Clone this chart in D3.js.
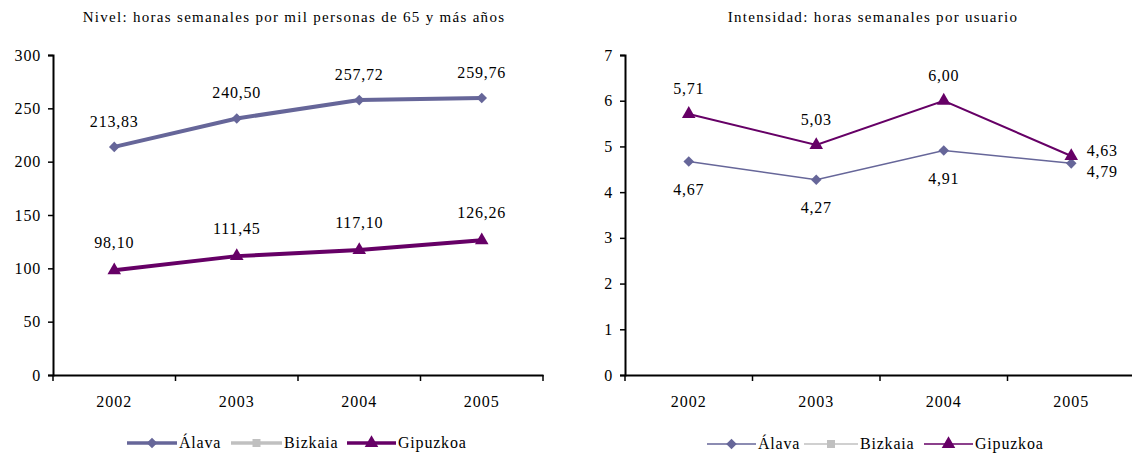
<!DOCTYPE html>
<html>
<head>
<meta charset="utf-8">
<script src="https://cdn.jsdelivr.net/npm/d3@7"></script>
<style>
  html, body { margin: 0; padding: 0; background: #fff; }
  svg { display: block; }
  svg text { font-family: "Liberation Serif", "Times New Roman", serif; }
</style>
</head>
<body>
<svg id="chart" width="1132" height="454"></svg>
<script>
const years = ["2002", "2003", "2004", "2005"];
const seriesNames = ["Álava", "Bizkaia", "Gipuzkoa"];
const seriesColors = ["#666699", "#C0C0C0", "#660066"];

// Left chart: Nivel
const nivelTitle = "Nivel: horas semanales por mil personas de  65 y más años";
const nivelAlava = [213.83, 240.50, 257.72, 259.76];
const nivelGipuzkoa = [98.10, 111.45, 117.10, 126.26];
const nivelAlavaLabels = ["213,83", "240,50", "257,72", "259,76"];
const nivelGipuzkoaLabels = ["98,10", "111,45", "117,10", "126,26"];
const nivelTicks = [0, 50, 100, 150, 200, 250, 300];

// Right chart: Intensidad
const intTitle = "Intensidad: horas semanales por usuario";
const intAlava = [4.67, 4.27, 4.91, 4.63];
const intGipuzkoa = [5.71, 5.03, 6.00, 4.79];
const intAlavaLabels = ["4,67", "4,27", "4,91", "4,79"];
const intGipuzkoaLabels = ["5,71", "5,03", "6,00", "4,63"];
const intTicks = [0, 1, 2, 3, 4, 5, 6, 7];

const FONT = "Liberation Serif, Times New Roman, serif";
const svg = d3.select("#chart");

function marker(sel, k, size) {
  sel.attr("d", d3.symbol().type(k === 2 ? d3.symbolTriangle : d3.symbolSquare).size(size));
}

function drawChart(cfg) {
  const g = svg.append("g").attr("font-family", FONT);
  const x = d3.scaleBand().domain(years).range([cfg.x0, cfg.x1]);
  const y = d3.scaleLinear().domain([0, cfg.ymax]).range([375, 55]);

  g.append("text")
    .attr("x", cfg.titleX).attr("y", 22)
    .attr("text-anchor", "middle")
    .attr("font-size", 15).attr("letter-spacing", 1.3)
    .attr("font-family", FONT)
    .attr("fill", "#000")
    .text(cfg.title);

  const yAxis = g.append("g").attr("transform", `translate(${cfg.x0},0)`)
    .call(d3.axisLeft(y).tickValues(cfg.ticks).tickSize(5).tickPadding(7).tickFormat(d3.format("d")));
  yAxis.attr("font-family", FONT);
  yAxis.select(".domain").attr("stroke", "#000").attr("stroke-width", 2);
  yAxis.selectAll(".tick line").attr("stroke", "#000").attr("stroke-width", 1.5);
  yAxis.selectAll("text").attr("font-size", 16).attr("letter-spacing", 0.8).attr("font-family", FONT).attr("fill", "#000");

  const xAxis = g.append("g").attr("transform", `translate(0,375)`)
    .call(d3.axisBottom(x).tickSize(0).tickPadding(21));
  xAxis.attr("font-family", FONT);
  xAxis.select(".domain").attr("stroke", "#000").attr("stroke-width", 2);
  xAxis.selectAll("text").attr("font-size", 16).attr("letter-spacing", 1).attr("font-family", FONT).attr("fill", "#000");
  const bounds = years.map(d => x(d)).concat([cfg.x1]);
  g.selectAll(".btick").data(bounds).enter().append("line")
    .attr("x1", d => d).attr("x2", d => d)
    .attr("y1", 375).attr("y2", 381)
    .attr("stroke", "#000").attr("stroke-width", 1.5);

  const cx = d => x(d) + x.bandwidth() / 2;
  const line = d3.line().x((d, i) => cx(years[i])).y(d => y(d));

  const series = [
    { k: 0, vals: cfg.alava, labels: cfg.alavaLabels, color: seriesColors[0], size: cfg.diaSize, rot: 45, lw: cfg.alavaLw, dy: cfg.alavaDy, dyLast: cfg.alavaDyLast },
    { k: 2, vals: cfg.gip, labels: cfg.gipLabels, color: seriesColors[2], size: cfg.triSize, rot: 0, lw: cfg.gipLw, dy: cfg.gipDy, dyLast: cfg.gipDyLast }
  ];
  series.forEach(s => {
    g.append("path").datum(s.vals)
      .attr("d", line).attr("fill", "none")
      .attr("stroke", s.color).attr("stroke-width", s.lw);
    g.selectAll(null).data(s.vals).enter().append("path")
      .call(marker, s.k, s.size)
      .attr("transform", (d, i) => `translate(${cx(years[i])},${y(d)}) rotate(${s.rot})`)
      .attr("fill", s.color);
    g.selectAll(null).data(s.vals).enter().append("text")
      .attr("x", (d, i) => cx(years[i]) + (cfg.lastDx && i === 3 ? cfg.lastDx : 0))
      .attr("y", (d, i) => y(d) + ((s.dyLast !== undefined && i === 3) ? s.dyLast : s.dy))
      .attr("text-anchor", "middle")
      .attr("font-size", 16).attr("letter-spacing", 0.8).attr("font-family", FONT).attr("fill", "#000")
      .text((d, i) => s.labels[i]);
  });

  const lg = g.append("g");
  cfg.legend.forEach((item, k) => {
    lg.append("line").attr("x1", item.lx0).attr("x2", item.lx1)
      .attr("y1", cfg.legY).attr("y2", cfg.legY)
      .attr("stroke", seriesColors[k]).attr("stroke-width", cfg.legLw);
    const sz = [cfg.diaSize, 64, cfg.triSize][k];
    const rot = [45, 0, 0][k];
    lg.append("path").call(marker, k, sz)
      .attr("transform", `translate(${(item.lx0 + item.lx1) / 2},${cfg.legY}) rotate(${rot})`)
      .attr("fill", seriesColors[k]);
    lg.append("text").attr("x", item.lx1 + 2).attr("y", cfg.legY + 5)
      .attr("font-size", 16).attr("letter-spacing", 0.8).attr("font-family", FONT).attr("fill", "#000")
      .text(seriesNames[k]);
  });
}

drawChart({
  x0: 53, x1: 543, ymax: 300, ticks: nivelTicks, title: nivelTitle, titleX: 294,
  alava: nivelAlava, gip: nivelGipuzkoa, alavaLabels: nivelAlavaLabels, gipLabels: nivelGipuzkoaLabels,
  diaSize: 56, triSize: 80, alavaLw: 4, gipLw: 4, alavaDy: -20, gipDy: -22,
  legY: 443, legLw: 3.5,
  legend: [{ lx0: 127, lx1: 177 }, { lx0: 231, lx1: 282 }, { lx0: 347, lx1: 396 }]
});

drawChart({
  x0: 625, x1: 1135, ymax: 7, ticks: intTicks, title: intTitle, titleX: 873,
  alava: intAlava, gip: intGipuzkoa, alavaLabels: intAlavaLabels, gipLabels: intGipuzkoaLabels,
  diaSize: 56, triSize: 80, alavaLw: 1.5, gipLw: 2, alavaDy: 33, gipDy: -20,
  lastDx: 31, alavaDyLast: 14, gipDyLast: 0,
  legY: 444, legLw: 1.5,
  legend: [{ lx0: 707, lx1: 756 }, { lx0: 804, lx1: 858 }, { lx0: 924, lx1: 973 }]
});
</script>
</body>
</html>
